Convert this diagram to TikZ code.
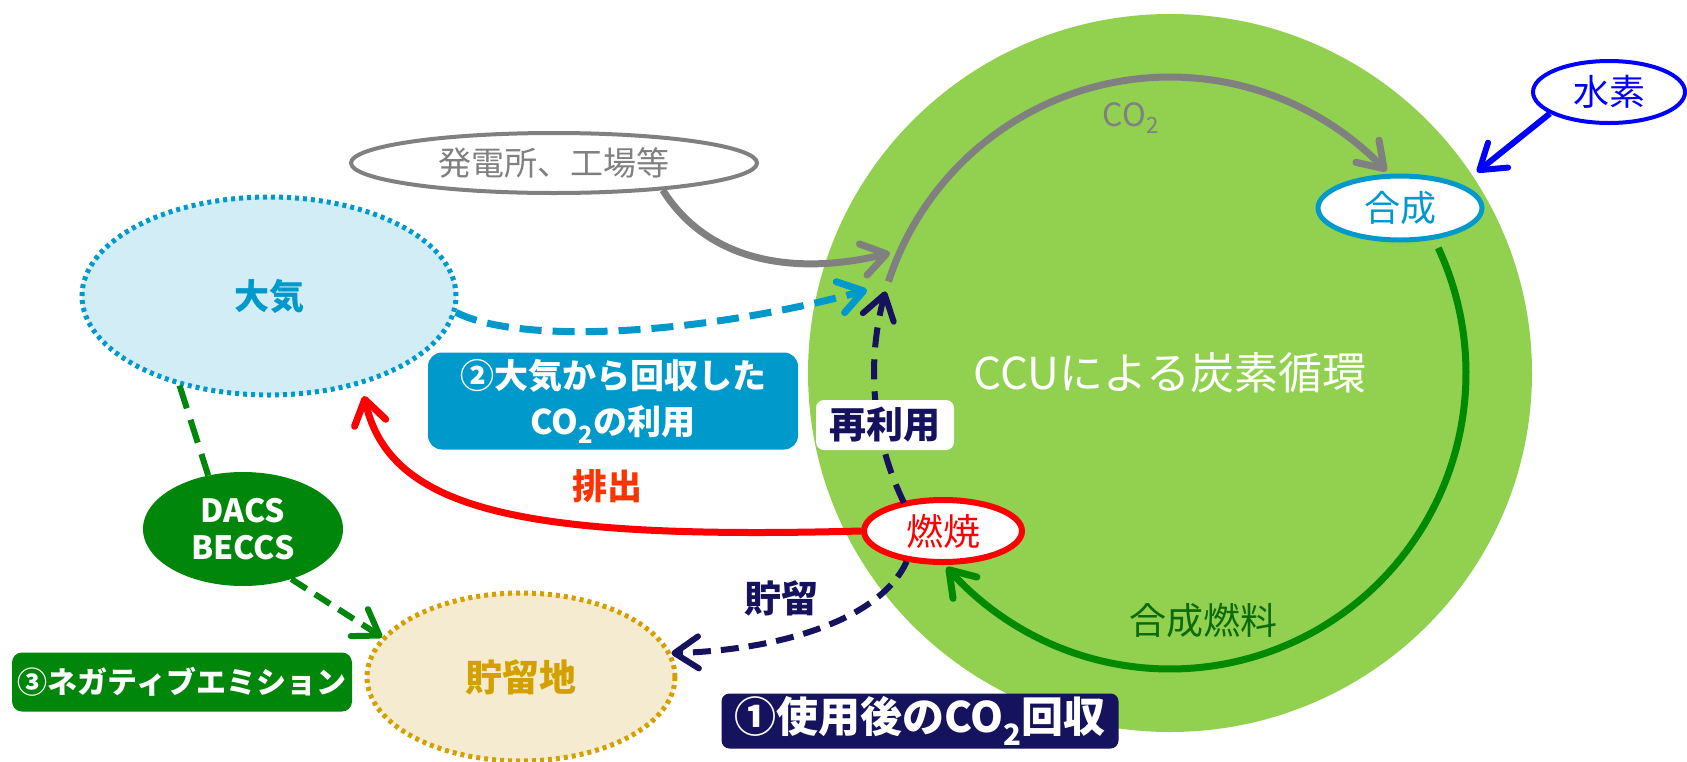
\documentclass[tikz,border=0pt]{standalone}
\usepackage{fontspec}
\setmainfont{Noto Sans CJK JP}
\usetikzlibrary{arrows.meta,shapes.geometric}
\definecolor{ccugreen}{HTML}{92D050}
\definecolor{cgray}{HTML}{808080}
\definecolor{skyfill}{HTML}{D2EDF6}
\definecolor{skyblue}{HTML}{0099CC}
\definecolor{dgreen}{HTML}{00860A}
\definecolor{beige}{HTML}{F4EBD0}
\definecolor{gold}{HTML}{D4A000}
\definecolor{navy}{HTML}{15125E}
\definecolor{fuelgreen}{HTML}{008A00}
\definecolor{fueltext}{HTML}{0B6B0B}
\definecolor{emitred}{HTML}{FF3300}
\definecolor{hblue}{HTML}{0000FF}
\newcommand{\fsz}[2]{\fontsize{#1}{#2}\selectfont}
\begin{document}
\begin{tikzpicture}[x=1pt,y=-1pt,
  arr/.style={-{Straight Barb[length=24pt,width=32pt,round]}},
  oval/.style={ellipse,inner sep=0pt},
  dots/.style={line width=5pt,dash pattern=on 4pt off 4pt},
  labelbox/.style={rounded corners=#1,inner sep=0pt},
]
\fill[white] (0,0) rectangle (1687,761);
\useasboundingbox (0,0) rectangle (1687,761);

% big green circle
\node[oval,fill=ccugreen,minimum width=724pt,minimum height=718pt,text=white,font=\fsz{44pt}{50pt}] (ccu) at (1170,373) {CCUによる炭素循環};

% nodes
\node[oval,fill=white,draw=cgray,line width=4pt,minimum width=406pt,minimum height=60pt,text=cgray,font=\fsz{33pt}{40pt}] (hatsu) at (554,163) {発電所、工場等};
\node[oval,fill=skyfill,draw=skyblue,dots,minimum width=374pt,minimum height=198pt,text=skyblue,font=\bfseries\fsz{35pt}{40pt}] (taiki) at (269,296) {大気};
\node[oval,fill=dgreen,minimum width=200pt,minimum height=114pt,text=white,font=\bfseries\fsz{32pt}{37pt},align=center] (dacs) at (243,529) {DACS\\BECCS};
\node[oval,fill=beige,draw=gold,dots,minimum width=308pt,minimum height=168pt,text=gold,font=\bfseries\fsz{37pt}{40pt}] (choryu) at (521,677) {貯留地};
\node[oval,fill=white,draw=red,line width=6pt,minimum width=158pt,minimum height=62pt,text=red,font=\fsz{37pt}{40pt}] (nensho) at (943,531) {燃焼};
\node[oval,fill=white,draw=skyblue,line width=5pt,minimum width=164pt,minimum height=64pt,text=skyblue,font=\fsz{36pt}{40pt}] (gosei) at (1400,208) {合成};
\node[oval,fill=white,draw=hblue,line width=4pt,minimum width=152pt,minimum height=62pt,text=hblue,font=\fsz{36pt}{40pt}] (suiso) at (1609,92) {水素};

% free ends
\coordinate (g1) at (890,253);
\coordinate (b1) at (867,290);
\coordinate (r1) at (364,396);
\coordinate (h1) at (1477,172);

% cycle arcs
\draw[cgray,line width=7pt,arr] plot[domain=198:317,samples=90] ({1170+296*cos(\x)},{373+296*sin(\x)});
\draw[fuelgreen,line width=7pt,arr] plot[domain=-25:139,samples=120] ({1170+296*cos(\x)},{373+296*sin(\x)});
\draw[navy,line width=6pt,dash pattern=on 20pt off 12pt,arr] plot[domain=154:196,samples=40] ({1170+296*cos(\x)},{373+296*sin(\x)});

% connectors
\draw[cgray,line width=7pt,arr] (hatsu.-14) .. controls (710,265) and (800,275) .. (g1);
\draw[skyblue,line width=7pt,dash pattern=on 22pt off 11pt,arr] (taiki.-5) .. controls (520,345) and (700,335) .. (b1);
\draw[red,line width=7pt,arr] (nensho.west) .. controls (520,540) and (390,510) .. (r1);
\draw[navy,line width=6pt,dash pattern=on 18pt off 10pt,arr] (nensho.-140) .. controls (880,620) and (780,650) .. (choryu.9);
\draw[dgreen,line width=6pt,dash pattern=on 24pt off 12pt] (taiki.-135) -- (dacs.123);
\draw[dgreen,line width=6pt,dash pattern=on 18pt off 10pt,arr] (dacs.-46) -- (choryu.164);
\draw[hblue,line width=6pt,arr] (suiso.-160) -- (h1);

% labels
\node[labelbox=14pt,fill=skyblue,minimum width=370pt,minimum height=97pt,text=white,font=\bfseries\fsz{34pt}{46pt},align=center] (box2) at (613,401) {②大気から回収した\\CO\textsubscript{2}の利用};
\node[text=emitred,font=\bfseries\fsz{35pt}{40pt}] (haishutsu) at (607,486) {排出};
\node[labelbox=10pt,fill=dgreen,minimum width=340pt,minimum height=59pt,text=white,font=\bfseries\fsz{30pt}{36pt}] (box3) at (182,682) {③ネガティブエミション};
\node[text=navy,font=\bfseries\fsz{37pt}{40pt}] (chlabel) at (781,598) {貯留};
\node[labelbox=8pt,fill=navy,minimum width=397pt,minimum height=55pt,text=white,font=\bfseries\fsz{42pt}{46pt}] (box1) at (920,721) {①使用後のCO\textsubscript{2}回収};
\node[labelbox=8pt,fill=white,minimum width=138pt,minimum height=50pt,text=navy,font=\bfseries\fsz{37pt}{40pt}] (sairiyo) at (885,425) {再利用};
\node[text=fueltext,font=\fsz{37pt}{40pt}] (fuel) at (1203,620) {合成燃料};
\node[text=cgray,font=\fsz{32pt}{36pt}] (co2) at (1131,118) {CO\textsubscript{2}};
\end{tikzpicture}
\end{document}
